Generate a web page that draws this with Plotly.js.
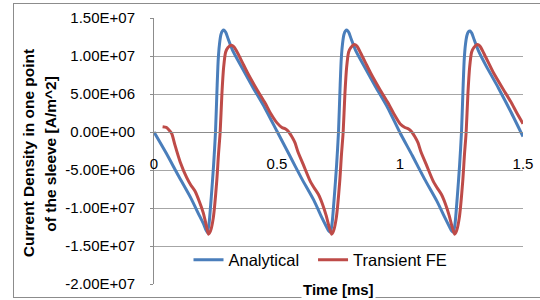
<!DOCTYPE html>
<html>
<head>
<meta charset="utf-8">
<script src="https://cdn.plot.ly/plotly-3.0.1.min.js"></script>
<style>
html,body{margin:0;padding:0;background:#fff;}
#wrap{position:relative;width:540px;height:300px;overflow:hidden;}
#frame{position:absolute;left:13px;top:3px;width:530px;height:295px;border:1px solid #8c8c8c;box-sizing:border-box;}
#chart{position:absolute;left:0;top:0;width:540px;height:300px;}
</style>
</head>
<body>
<div id="wrap"><div id="frame"></div><div id="chart"></div></div>
<script>
// Time [ms]
const timeAnalytical = [
  0, 0.05, 0.1, 0.15, 0.18, 0.2, 0.21, 0.217, 0.224, 0.233, 0.242, 0.25, 0.256, 0.261, 0.266, 0.272, 0.278, 0.285, 0.292, 0.302, 0.32, 0.35, 0.4, 0.45, 0.5,
  0.55, 0.6, 0.65, 0.68, 0.7, 0.71, 0.717, 0.724, 0.733, 0.742, 0.75, 0.756, 0.761, 0.766, 0.772, 0.778, 0.785, 0.792, 0.802, 0.82, 0.85, 0.9, 0.95, 1.0,
  1.05, 1.1, 1.15, 1.18, 1.2, 1.21, 1.217, 1.224, 1.233, 1.242, 1.25, 1.256, 1.261, 1.266, 1.272, 1.278, 1.285, 1.292, 1.302, 1.32, 1.35, 1.4, 1.45, 1.5
];
// Current density [A/m^2]
const analytical = [
  0, -2.8e6, -5.8e6, -8.7e6, -1.07e7, -1.2e7, -1.28e7, -1.32e7, -1.2e7, -8.5e6, -4.5e6, 0, 5.5e6, 9.5e6, 1.15e7, 1.28e7, 1.33e7, 1.34e7, 1.31e7, 1.22e7, 1.07e7, 8.9e6, 6.0e6, 3.2e6, 1e5,
  -3.0e6, -6.1e6, -9.0e6, -1.11e7, -1.24e7, -1.3e7, -1.32e7, -1.2e7, -8.5e6, -4.5e6, 0, 5.5e6, 9.5e6, 1.15e7, 1.28e7, 1.33e7, 1.34e7, 1.31e7, 1.22e7, 1.07e7, 8.9e6, 6.0e6, 3.2e6, -1e5,
  -3.1e6, -6.2e6, -9.1e6, -1.11e7, -1.24e7, -1.3e7, -1.32e7, -1.2e7, -8.5e6, -4.5e6, 0, 5.5e6, 9.5e6, 1.15e7, 1.27e7, 1.32e7, 1.33e7, 1.3e7, 1.21e7, 1.06e7, 8.7e6, 5.8e6, 2.7e6, -6e5
];
const timeTransient = [
  0.035, 0.05, 0.06, 0.072, 0.085, 0.106, 0.133, 0.15, 0.167, 0.185, 0.2, 0.212, 0.221, 0.23, 0.241, 0.255, 0.262, 0.269, 0.276, 0.283, 0.291, 0.3, 0.314, 0.325, 0.34, 0.36, 0.38, 0.42, 0.45, 0.475, 0.5,
  0.52, 0.535, 0.548, 0.56, 0.573, 0.585, 0.607, 0.634, 0.65, 0.668, 0.685, 0.7, 0.712, 0.722, 0.73, 0.741, 0.755, 0.762, 0.769, 0.776, 0.783, 0.791, 0.8, 0.814, 0.825, 0.84, 0.86, 0.88, 0.92, 0.95, 0.975, 1.0,
  1.02, 1.035, 1.048, 1.06, 1.073, 1.085, 1.107, 1.134, 1.15, 1.168, 1.185, 1.2, 1.212, 1.222, 1.23, 1.241, 1.255, 1.262, 1.269, 1.276, 1.283, 1.291, 1.3, 1.314, 1.325, 1.34, 1.36, 1.38, 1.42, 1.45, 1.475, 1.5
];
const transientFE = [
  7e5, 6e5, 3e5, -2e5, -1.7e6, -3.9e6, -6.0e6, -7.0e6, -7.8e6, -9.2e6, -1.06e7, -1.22e7, -1.345e7, -1.3e7, -1.13e7, -6.5e6, -3.0e6, 0, 5.0e6, 8.5e6, 1.05e7, 1.11e7, 1.14e7, 1.12e7, 1.04e7, 9.1e6, 7.8e6, 5.5e6, 3.9e6, 2.4e6, 1.2e6,
  6e5, 4e5, 0, -6e5, -1.4e6, -2.6e6, -4.3e6, -6.4e6, -7.3e6, -8.2e6, -9.5e6, -1.1e7, -1.25e7, -1.345e7, -1.3e7, -1.13e7, -6.5e6, -3.0e6, 0, 5.0e6, 8.5e6, 1.05e7, 1.11e7, 1.15e7, 1.13e7, 1.04e7, 9.1e6, 7.8e6, 5.5e6, 3.9e6, 2.4e6, 1.1e6,
  6e5, 4e5, 0, -6e5, -1.4e6, -2.6e6, -4.3e6, -6.4e6, -7.3e6, -8.2e6, -9.5e6, -1.1e7, -1.25e7, -1.345e7, -1.3e7, -1.13e7, -6.5e6, -3.0e6, 0, 5.0e6, 8.5e6, 1.05e7, 1.11e7, 1.15e7, 1.13e7, 1.04e7, 9.1e6, 7.8e6, 5.6e6, 4.0e6, 2.5e6, 1.1e6
];
const seriesNames = ["Analytical", "Transient FE"];
const yTickVals = [1.5e7, 1e7, 5e6, 0, -5e6, -1e7, -1.5e7, -2e7];
const yTickText = ["1.50E+07", "1.00E+07", "5.00E+06", "0.00E+00", "-5.00E+06", "-1.00E+07", "-1.50E+07", "-2.00E+07"];
const xTickVals = [0, 0.5, 1, 1.5];
const xTickText = ["0", "0.5", "1", "1.5"];
const yTitleLines = ["Current Density in one point", "of the sleeve [A/m^2]"];
const xTitle = "Time [ms]";

const FONT = "Liberation Sans, Arial, sans-serif";
const legFont = {family: FONT, size: 16.5, color: "#000"};
const traces = [
  {x: timeAnalytical, y: analytical, name: seriesNames[0], mode: "lines", legend: "legend",
   line: {color: "#4a7ebb", width: 3, shape: "spline", smoothing: 0.6}},
  {x: timeTransient, y: transientFE, name: seriesNames[1], mode: "lines", legend: "legend2",
   line: {color: "#be4b48", width: 3, shape: "spline", smoothing: 0.6}}
];
const layout = {
  width: 540, height: 300,
  margin: {l: 154, r: 17, t: 18, b: 16, pad: 0},
  paper_bgcolor: "rgba(0,0,0,0)", plot_bgcolor: "rgba(0,0,0,0)",
  font: {family: FONT, color: "#000", size: 15},
  showlegend: true,
  legend: {orientation: "h", x: 0.0935, xanchor: "left", y: 0.09, yanchor: "middle",
           font: legFont, bgcolor: "rgba(0,0,0,0)", itemwidth: 30},
  legend2: {orientation: "h", x: 0.431, xanchor: "left", y: 0.09, yanchor: "middle",
           font: legFont, bgcolor: "rgba(0,0,0,0)", itemwidth: 30},
  xaxis: {range: [0, 1.5], tickvals: xTickVals, ticktext: xTickText, anchor: "free", position: 2/3.5,
          showgrid: false, zeroline: false, showline: true, linecolor: "#8c8c8c", linewidth: 1,
          ticks: "", ticklabelstandoff: 18, tickfont: {family: FONT, size: 15, color: "#000"}},
  yaxis: {range: [-2e7, 1.5e7], tickvals: yTickVals, ticktext: yTickText,
          showgrid: true, gridcolor: "#a6a6a6", gridwidth: 1, zeroline: false,
          showline: true, linecolor: "#8c8c8c", linewidth: 1, ticks: "outside", ticklen: 3, tickcolor: "#8c8c8c",
          ticklabelstandoff: 12, tickfont: {family: FONT, size: 15, color: "#000"}},
  annotations: [
    {text: "<b>" + xTitle + "</b>", xref: "paper", yref: "paper", x: 0.5, y: 0, yshift: -5,
     xanchor: "center", yanchor: "middle", showarrow: false, bgcolor: "#fff",
     font: {family: FONT, size: 15, color: "#000"}},
    {text: "<b>" + yTitleLines[0] + "</b>", xref: "paper", yref: "paper", x: (28.5 - 154) / 369, y: 0.49,
     xanchor: "center", yanchor: "middle", textangle: -90, showarrow: false,
     font: {family: FONT, size: 15.5, color: "#000"}},
    {text: "<b>" + yTitleLines[1] + "</b>", xref: "paper", yref: "paper", x: (51 - 154) / 369, y: 0.49,
     xanchor: "center", yanchor: "middle", textangle: -90, showarrow: false,
     font: {family: FONT, size: 15.5, color: "#000"}}
  ]
};
Plotly.newPlot("chart", traces, layout, {staticPlot: true, displayModeBar: false});
</script>
</body>
</html>
